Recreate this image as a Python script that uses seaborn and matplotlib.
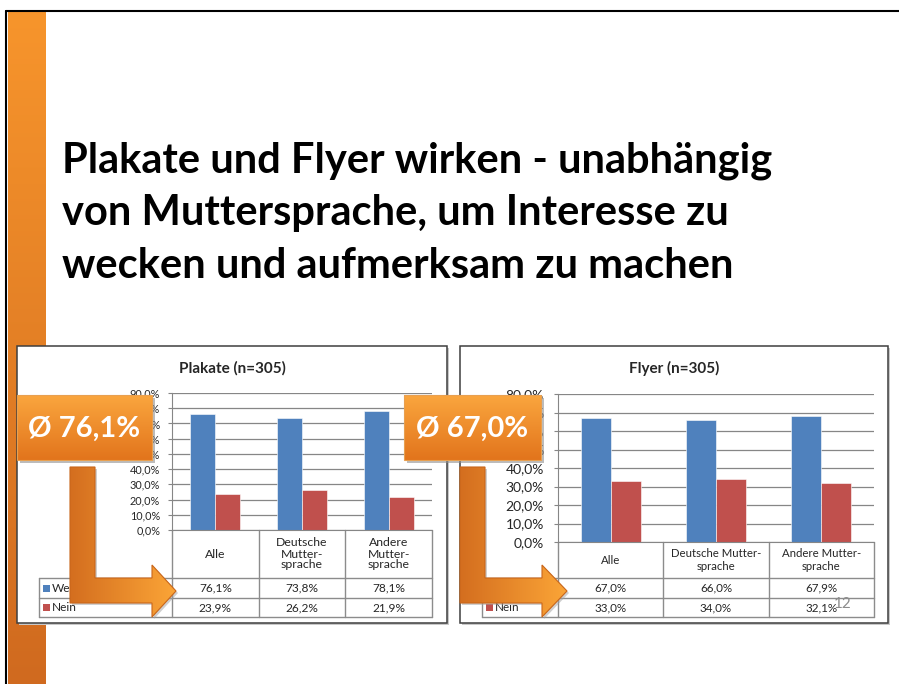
import matplotlib
matplotlib.use("Agg")
import matplotlib.pyplot as plt
import seaborn as sns
import numpy as np
import pandas as pd
from matplotlib.patches import Rectangle, Polygon
from matplotlib.colors import LinearSegmentedColormap

# ---------------- data ----------------
title_lines = ["Plakate und Flyer wirken - unabhängig",
               "von Muttersprache, um Interesse zu",
               "wecken und aufmerksam zu machen"]
series_labels = ["Wecken", "Nein"]
plakate_title = "Plakate (n=305)"
flyer_title = "Flyer (n=305)"
plakate_cats = ["Alle", "Deutsche\nMutter-\nsprache", "Andere\nMutter-\nsprache"]
flyer_cats = ["Alle", "Deutsche Mutter-\nsprache", "Andere Mutter-\nsprache"]
plakate_ja = [76.1, 73.8, 78.1]
plakate_nein = [23.9, 26.2, 21.9]
flyer_ja = [67.0, 66.0, 67.9]
flyer_nein = [33.0, 34.0, 32.1]
plakate_ticks = [0, 10, 20, 30, 40, 50, 60, 70, 80, 90]
flyer_ticks = [0, 10, 20, 30, 40, 50, 60, 70, 80]
plakate_avg = "Ø 76,1%"
flyer_avg = "Ø 67,0%"
page_number = "12"

BLUE = "#4F81BD"
RED = "#C0504D"
GRID = "#868686"
TBL = "#8C8C8C"

W, H = 899, 684
sns.set_style("white")
plt.rcParams["font.family"] = ["Lato", "DejaVu Sans"]

fig = plt.figure(figsize=(W / 100, H / 100), dpi=100)
fig.patch.set_facecolor("white")


def overlay(z):
    a = fig.add_axes([0, 0, 1, 1], zorder=z)
    a.set_xlim(0, W)
    a.set_ylim(H, 0)
    a.axis("off")
    a.patch.set_alpha(0)
    return a


bg = overlay(0)
fg = overlay(10)


def grad(ax, patch, extent, c1, c2, horizontal=False, z=1):
    patch.set_facecolor("none")
    patch.set_zorder(z + 0.1)
    ax.add_patch(patch)
    n = 256
    arr = np.linspace(0, 1, n)
    arr = arr.reshape(1, n) if horizontal else arr.reshape(n, 1)
    cmap = LinearSegmentedColormap.from_list("g", [c1, c2])
    x0, x1, y0, y1 = extent
    im = ax.imshow(arr, cmap=cmap, extent=(x0, x1, y1, y0), aspect="auto",
                   origin="upper", zorder=z, interpolation="bilinear")
    im.set_clip_path(patch)


# slide frame + orange bar
grad(bg, Rectangle((8, 11), 38, H - 11, lw=0), (8, 46, 11, H), "#F7952C", "#D06A1F", z=1)
bg.plot([6, W], [11, 11], color="black", lw=1.5, zorder=3)
bg.plot([6, 6], [11, H], color="black", lw=1.5, zorder=3)

# title
for i, line in enumerate(title_lines):
    bg.text(62, 173 + i * 52.5, line, fontsize=30, fontweight="bold",
            va="baseline", ha="left", color="black", zorder=3)

# chart boxes
boxes = [(17, 346, 447, 623), (460, 346, 888, 623)]
for (x0, y0, x1, y1) in boxes:
    bg.add_patch(Rectangle((x0 + 2, y0 + 2), x1 - x0, y1 - y0, fc="#C8C8C8", ec="none", zorder=2))
    bg.add_patch(Rectangle((x0, y0), x1 - x0, y1 - y0, fc="white", ec="#3F3F3F", lw=1.1, zorder=2.5))


def fmt(v):
    return f"{v:.1f}%".replace(".", ",")


def chart(px, cats, ja, nein, ticks, title, title_x, tick_fs, tick_pad, tbl_fs, head_fs,
          head_y, head_ls, leg_x0, width):
    x0, x1, ytop, ybot = px
    ax = fig.add_axes([x0 / W, 1 - ybot / H, (x1 - x0) / W, (ybot - ytop) / H], zorder=3)
    ax.patch.set_alpha(0)
    df = pd.DataFrame({
        "Kategorie": cats + cats,
        "Anteil": ja + nein,
        "Antwort": [series_labels[0]] * len(cats) + [series_labels[1]] * len(cats),
    })
    sns.barplot(data=df, x="Kategorie", y="Anteil", hue="Antwort", order=cats,
                hue_order=series_labels, palette=[BLUE, RED], width=width,
                saturation=1, legend=False, errorbar=None, ax=ax,
                edgecolor="white", linewidth=0.4)
    ax.set_ylim(ticks[0], ticks[-1])
    ax.set_xlim(-0.5, len(cats) - 0.5)
    ax.set_yticks(ticks)
    ax.set_yticklabels([fmt(t) for t in ticks])
    ax.yaxis.grid(True, color=GRID, lw=0.9)
    ax.set_axisbelow(True)
    ax.tick_params(axis="y", length=3, width=0.8, color=GRID, pad=tick_pad,
                   labelsize=tick_fs, left=True)
    ax.tick_params(axis="x", length=0, labelbottom=False)
    ax.set_xlabel("")
    ax.set_ylabel("")
    for s in ["top", "right"]:
        ax.spines[s].set_visible(False)
    ax.spines["left"].set_color(GRID)
    ax.spines["bottom"].set_color(GRID)

    bg.text(title_x, 368, title, fontsize=11, fontweight="bold", ha="center", va="center", zorder=3)

    # data table
    n = len(cats)
    cols = [x0 + i * (x1 - x0) / n for i in range(n + 1)]
    r0, r1, r2, r3 = ybot, 578, 598, 617
    lkw = dict(color=TBL, lw=1, zorder=3)
    for c in cols:
        bg.plot([c, c], [r0, r3], **lkw)
    bg.plot([leg_x0, leg_x0], [r1, r3], **lkw)
    for r in (r1, r2, r3):
        bg.plot([leg_x0, x1], [r, r], **lkw)
    for i in range(n):
        cx = (cols[i] + cols[i + 1]) / 2
        bg.text(cx, head_y, cats[i], fontsize=head_fs, ha="center", va="center",
                linespacing=head_ls, zorder=3)
        bg.text(cx, (r1 + r2) / 2, fmt(ja[i]), fontsize=tbl_fs, ha="center", va="center", zorder=3)
        bg.text(cx, (r2 + r3) / 2, fmt(nein[i]), fontsize=tbl_fs, ha="center", va="center", zorder=3)
    for k, (col, lab) in enumerate(zip([BLUE, RED], series_labels)):
        yc = (r1 + r2) / 2 if k == 0 else (r2 + r3) / 2
        bg.add_patch(Rectangle((leg_x0 + 4, yc - 3.5), 7, 7, fc=col, ec="none", zorder=3))
        bg.text(leg_x0 + 13, yc, lab, fontsize=tbl_fs, ha="left", va="center", zorder=3)
    return ax


chart((172, 432, 393, 530), plakate_cats, plakate_ja, plakate_nein, plakate_ticks,
      plakate_title, 232, 7.8, 5.5, 8.6, 8.8, 554, 1.0, 39, 0.577)
chart((558, 874, 394, 542), flyer_cats, flyer_ja, flyer_nein, flyer_ticks,
      flyer_title, 674, 10, 7, 8.4, 8.2, 560, 1.15, 482, 0.57)

bg.text(843, 604, page_number, fontsize=11, color="#8C8C8C", ha="center", va="center", zorder=4)


# arrows and badges (foreground)
def arrow(x0, top, xb, tip):
    pts = [(x0, top), (x0 + 25, top), (x0 + 25, 578), (xb, 578), (xb, 565),
           (tip, 591), (xb, 617), (xb, 603), (x0, 603)]
    sh = Polygon([(x + 2, y + 2) for x, y in pts], closed=True, fc="#A0A0A0", ec="none", alpha=0.5, zorder=1)
    fg.add_patch(sh)
    p = Polygon(pts, closed=True, ec="#C9661A", lw=0.8)
    grad(fg, p, (x0, tip, top, 617), "#D46E1F", "#FBA537", horizontal=True, z=2)


arrow(70, 467, 152, 176)
arrow(460, 467, 542, 567)


def badge(x0, x1, y0, y1, text):
    fg.add_patch(Rectangle((x0 + 3, y0 + 3), x1 - x0, y1 - y0, fc="#909090", ec="none", alpha=0.6, zorder=3))
    r = Rectangle((x0, y0), x1 - x0, y1 - y0, ec="#E8A050", lw=0.8)
    grad(fg, r, (x0, x1, y0, y1), "#FAA63E", "#E2741C", z=4)
    fg.text((x0 + x1) / 2, (y0 + y1) / 2 + 1, text, fontsize=21, fontweight="bold",
            color="white", ha="center", va="center", zorder=6)


badge(17, 152, 395, 460, plakate_avg)
badge(404, 541, 395, 460, flyer_avg)

for a in (bg, fg):
    a.set_xlim(0, W)
    a.set_ylim(H, 0)

fig.savefig("out.png", dpi=100)
